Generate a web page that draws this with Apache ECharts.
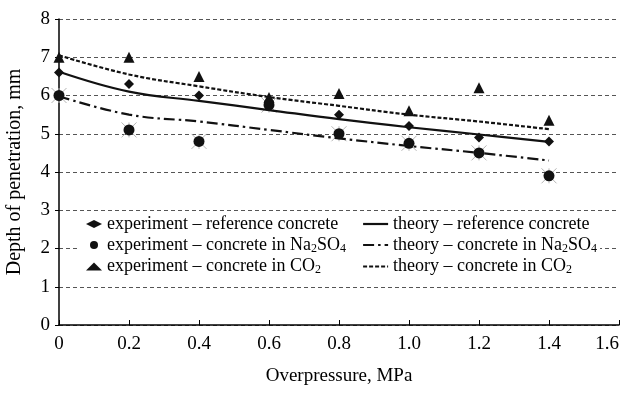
<!DOCTYPE html>
<html>
<head>
<meta charset="utf-8">
<script src="https://cdn.jsdelivr.net/npm/echarts@6/dist/echarts.min.js"></script>
<style>
  html, body { margin: 0; padding: 0; background: #fff; }
  #chart { width: 624px; height: 393px; }
</style>
</head>
<body>
<div id="chart"></div>
<script>
// overpressure, MPa
var pressure = [0, 0.2, 0.4, 0.6, 0.8, 1.0, 1.2, 1.4];

// experiment points, mm
var expRef = [6.6, 6.3, 6.0, 5.85, 5.5, 5.2, 4.9, 4.8];
var expNa = [6.0, 5.1, 4.8, 5.75, 5.0, 4.75, 4.5, 3.9];
var expCO2 = [7.0, 7.0, 6.5, 5.95, 6.05, 5.6, 6.2, 5.35];

// theory curves, mm
var theoryRef = [6.62, 6.1, 5.86, 5.62, 5.38, 5.17, 4.98, 4.79];
var theoryNa = [5.98, 5.5, 5.32, 5.1, 4.88, 4.68, 4.5, 4.3];
var theoryCO2 = [7.05, 6.55, 6.24, 5.96, 5.73, 5.5, 5.32, 5.12];

var xTickLabels = ['0', '0.2', '0.4', '0.6', '0.8', '1.0', '1.2', '1.4', '1.6'];
var yTickLabels = ['0', '1', '2', '3', '4', '5', '6', '7', '8'];

var namesExp = [
    'experiment – reference concrete',
    'experiment – concrete in Na2SO4',
    'experiment – concrete in CO2'
];
var namesTheory = [
    'theory – reference concrete',
    'theory – concrete in Na2SO4',
    'theory – concrete in CO2'
];

var FONT = '"Liberation Serif", "Times New Roman", serif';
var INK = '#111';

function pairs(arr) {
    return pressure.map(function (p, i) {
        return [p, arr[i]];
    });
}

// Na2SO4 / CO2 -> rich text with subscripts
function legendText(name) {
    var s = name.replace('Na2SO4', '{a|Na}{s|2}{a|SO}{s|4}').replace('CO2', '{a|CO}{s|2}');
    var idx = s.indexOf('{');
    if (idx < 0) return '{a|' + s + '}';
    return '{a|' + s.slice(0, idx) + '}' + s.slice(idx);
}

var legendRich = {
    a: {fontFamily: FONT, fontSize: 18, color: '#000', lineHeight: 19},
    s: {fontFamily: FONT, fontSize: 12, color: '#000', lineHeight: 19, verticalAlign: 'bottom'}
};

var dom = document.getElementById('chart');
var myChart = echarts.init(dom, null, {renderer: 'canvas'});

var option = {
    backgroundColor: '#fff',
    animation: false,
    grid: {
        left: 59,
        right: 5,
        top: 19,
        bottom: 68,
        outerBoundsMode: 'none',
        containLabel: false
    },
    legend: [
        {
            data: namesExp,
            orient: 'vertical',
            left: 80,
            top: 213,
            padding: [2, 4, 2, 6],
            itemGap: 3,
            itemWidth: 16,
            itemHeight: 8,
            backgroundColor: '#fff',
            itemStyle: {opacity: 1},
            formatter: legendText,
            textStyle: {rich: legendRich}
        },
        {
            data: namesTheory,
            orient: 'vertical',
            left: 352,
            top: 213,
            padding: [2, 3, 2, 10],
            itemGap: 3,
            itemWidth: 25,
            itemHeight: 9,
            backgroundColor: '#fff',
            itemStyle: {opacity: 0},
            lineStyle: {width: 2.2},
            formatter: legendText,
            textStyle: {rich: legendRich}
        }
    ],
    xAxis: {
        type: 'value',
        min: 0,
        max: 1.6,
        interval: 0.2,
        name: 'Overpressure, MPa',
        nameLocation: 'middle',
        nameGap: 42,
        nameTextStyle: {fontFamily: FONT, fontSize: 19, color: '#000'},
        axisLine: {lineStyle: {color: '#000', width: 1.5}},
        axisTick: {inside: true, length: 5, lineStyle: {color: '#000'}},
        axisLabel: {
            fontFamily: FONT,
            fontSize: 19,
            color: '#000',
            margin: 10,
            alignMaxLabel: 'right',
            formatter: function (v) {
                return xTickLabels[Math.round(v / 0.2)];
            }
        },
        splitLine: {show: false}
    },
    yAxis: {
        type: 'value',
        min: 0,
        max: 8,
        interval: 1,
        name: 'Depth of penetration, mm',
        nameLocation: 'middle',
        nameGap: 34,
        nameTextStyle: {fontFamily: FONT, fontSize: 20, color: '#000'},
        axisLine: {show: true, lineStyle: {color: '#000', width: 1.5}},
        axisTick: {show: true, length: 4, lineStyle: {color: '#000'}},
        axisLabel: {
            fontFamily: FONT,
            fontSize: 19,
            color: '#000',
            margin: 9,
            formatter: function (v) {
                return yTickLabels[Math.round(v)];
            }
        },
        splitLine: {
            show: true,
            lineStyle: {color: '#555', type: [4, 3], width: 1}
        }
    },
    series: [
        {
            // grey print artefacts under the Na2SO4 points
            name: 'crossNa',
            type: 'scatter',
            data: pairs(expNa),
            symbol: 'path://M0,0 L10,10 M10,0 L0,10 M5,0 L5,10',
            symbolSize: 15,
            itemStyle: {color: 'none', borderColor: '#b5b5b5', borderWidth: 1, opacity: 1},
            z: 1,
            silent: true
        },
        {
            name: namesExp[0],
            type: 'scatter',
            data: pairs(expRef),
            symbol: 'diamond',
            symbolSize: 10,
            itemStyle: {color: INK, opacity: 1},
            z: 3
        },
        {
            name: namesExp[1],
            type: 'scatter',
            data: pairs(expNa),
            symbol: 'circle',
            symbolSize: 11,
            itemStyle: {color: INK, opacity: 1},
            z: 3
        },
        {
            name: namesExp[2],
            type: 'scatter',
            data: pairs(expCO2),
            symbol: 'triangle',
            symbolSize: 11,
            itemStyle: {color: INK, opacity: 1},
            z: 3
        },
        {
            name: namesTheory[0],
            type: 'line',
            data: pairs(theoryRef),
            smooth: 0.4,
            symbol: 'none',
            lineStyle: {color: INK, width: 2.2, type: 'solid'},
            itemStyle: {color: INK},
            z: 2
        },
        {
            name: namesTheory[1],
            type: 'line',
            data: pairs(theoryNa),
            smooth: 0.4,
            symbol: 'none',
            lineStyle: {color: INK, width: 2.2, type: [11, 4, 2.5, 4]},
            itemStyle: {color: INK},
            z: 2
        },
        {
            name: namesTheory[2],
            type: 'line',
            data: pairs(theoryCO2),
            smooth: 0.4,
            symbol: 'none',
            lineStyle: {color: INK, width: 2.2, type: [4, 2]},
            itemStyle: {color: INK},
            z: 2
        }
    ]
};

myChart.setOption(option);
</script>
</body>
</html>
